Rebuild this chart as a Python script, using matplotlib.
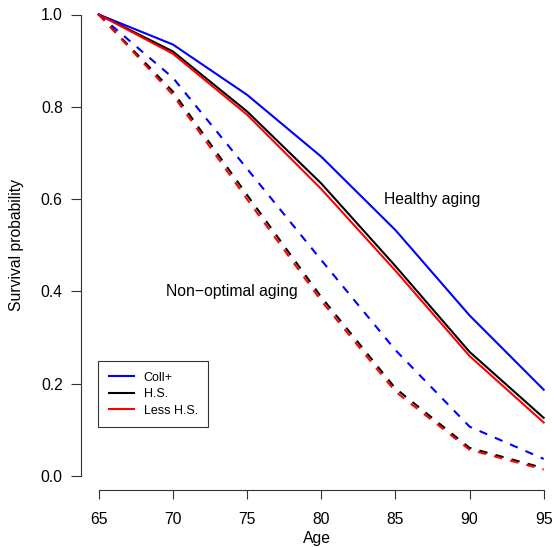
import matplotlib
matplotlib.use("Agg")
import matplotlib.pyplot as plt
from matplotlib.lines import Line2D

ages = [65, 70, 75, 80, 85, 90, 95]

healthy_coll = [1.0, 0.935, 0.826, 0.692, 0.533, 0.348, 0.187]
healthy_hs = [1.0, 0.920, 0.790, 0.634, 0.455, 0.269, 0.126]
healthy_less = [1.0, 0.915, 0.783, 0.622, 0.445, 0.260, 0.116]

nonopt_coll = [1.0, 0.863, 0.666, 0.468, 0.273, 0.107, 0.037]
nonopt_hs = [1.0, 0.833, 0.609, 0.388, 0.190, 0.061, 0.017]
nonopt_less = [1.0, 0.826, 0.600, 0.380, 0.183, 0.057, 0.014]

series_labels = ["Coll+", "H.S.", "Less H.S."]
series_colors = ["#0000FF", "#000000", "#FF0000"]

x_ticks = [65, 70, 75, 80, 85, 90, 95]
y_ticks = [0.0, 0.2, 0.4, 0.6, 0.8, 1.0]

plt.rcParams['font.family'] = ['Liberation Sans', 'DejaVu Sans']

W, H = 554, 547
fig = plt.figure(figsize=(W / 100, H / 100), dpi=100)
ax = fig.add_axes([81 / W, (H - 490) / H, (553 - 81) / W, 490 / H])

pxx = 445 / 30.0
pxy = 461.5
ax.set_xlim(65 - (98.7 - 81) / pxx, 95 + (553 - 543.7) / pxx)
ax.set_ylim(0 - 14 / pxy, 1 + 14.5 / pxy)

lw = 1.5
for vals, c in zip([healthy_coll, healthy_hs, healthy_less], series_colors):
    ax.plot(ages, vals, color=c, lw=lw, solid_joinstyle='round')
for vals, c in zip([nonopt_coll, nonopt_hs, nonopt_less], series_colors):
    ax.plot(ages, vals, color=c, lw=lw, linestyle=(0, (4, 4)))

fs = 11.3
ax.text(87.45, 0.600, "Healthy aging", ha='center', va='center', fontsize=fs)
ax.text(74.0, 0.399, "Non\u2212optimal aging", ha='center', va='center', fontsize=fs)

for s in ['top', 'right']:
    ax.spines[s].set_visible(False)
ax.spines['left'].set_bounds(0, 1)
ax.spines['bottom'].set_bounds(65, 95)
for s in ['left', 'bottom']:
    ax.spines[s].set_color('#333333')
    ax.spines[s].set_linewidth(0.8)

ax.set_xticks(x_ticks)
ax.set_xticklabels([str(v) for v in x_ticks])
ax.set_yticks(y_ticks)
ax.set_yticklabels([f"{v:.1f}" for v in y_ticks])
ax.tick_params(axis='y', length=7.2, width=0.8, pad=6, labelsize=fs, color='#333333')
ax.tick_params(axis='x', length=6.5, width=0.8, pad=9.5, labelsize=fs, color='#333333')

ax.set_xlabel("Age", fontsize=fs, labelpad=3)
ax.set_ylabel("Survival probability", fontsize=fs, labelpad=12)

handles = [Line2D([0], [0], color=c, lw=lw) for c in series_colors]
# legend box: x 98..210 px, y 361..425 px
bx = (98 - 81) / (553 - 81)
by = (490 - 361) / 490
leg = ax.legend(handles, series_labels, loc='upper left', bbox_to_anchor=(bx, by),
                fontsize=9, frameon=True, fancybox=False, handlelength=2.0,
                handletextpad=0.8, borderpad=0.85, labelspacing=0.36, borderaxespad=0)
leg.get_frame().set_edgecolor('black')
leg.get_frame().set_linewidth(0.8)

fig.savefig("out.png", dpi=100)
